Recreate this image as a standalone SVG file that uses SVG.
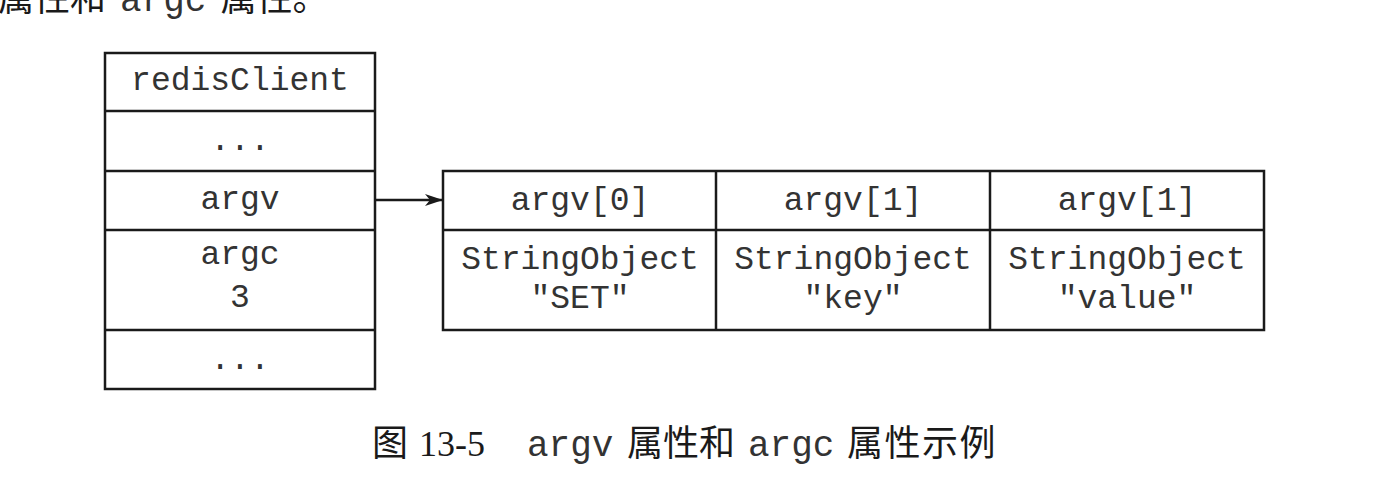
<svg xmlns="http://www.w3.org/2000/svg" width="1392" height="486" viewBox="0 0 1392 486">
<style>
.box{fill:#fff;stroke:#1a1a1a;stroke-width:2.5}
.ln{stroke:#1a1a1a;stroke-width:2.5}
.mono{font-family:"Liberation Mono","Noto Sans CJK SC",monospace;font-size:33px;fill:#333;text-anchor:middle}
.cjk{font-family:"Liberation Serif","Noto Sans CJK SC",serif;font-size:36px;fill:#1a1a1a}
.cm{font-family:"Liberation Mono",monospace;font-size:36px;fill:#333}
</style>
<defs>
<marker id="ah" markerWidth="18" markerHeight="12" refX="17" refY="6" orient="auto" markerUnits="userSpaceOnUse">
<path d="M0,0 L18,6 L0,12 L5,6 Z" fill="#1a1a1a"/>
</marker>
</defs>
<rect width="1392" height="486" fill="#fff"/>
<text x="-2" y="11" class="cjk">属性和<tspan class="cm" dx="14">argc</tspan><tspan dx="14">属性。</tspan></text>

<g id="redisClient">
<rect class="box" x="105" y="53" width="270" height="336"/>
<line class="ln" x1="105" y1="111" x2="375" y2="111"/>
<line class="ln" x1="105" y1="171" x2="375" y2="171"/>
<line class="ln" x1="105" y1="230" x2="375" y2="230"/>
<line class="ln" x1="105" y1="330" x2="375" y2="330"/>
<text class="mono" x="240" y="90">redisClient</text>
<text class="mono" x="240" y="150">...</text>
<text class="mono" x="240" y="209">argv</text>
<text class="mono" x="240" y="264">argc</text>
<text class="mono" x="240" y="307">3</text>
<text class="mono" x="240" y="369">...</text>
</g>

<g id="argv-array">
<rect class="box" x="443" y="171" width="821" height="159"/>
<line class="ln" x1="443" y1="230" x2="1264" y2="230"/>
<line class="ln" x1="716" y1="171" x2="716" y2="330"/>
<line class="ln" x1="990" y1="171" x2="990" y2="330"/>
<text class="mono" x="580" y="210">argv[0]</text>
<text class="mono" x="853" y="210">argv[1]</text>
<text class="mono" x="1127" y="210">argv[1]</text>
<text class="mono" x="580" y="269">StringObject</text>
<text class="mono" x="580" y="308">"SET"</text>
<text class="mono" x="853" y="269">StringObject</text>
<text class="mono" x="853" y="308">"key"</text>
<text class="mono" x="1127" y="269">StringObject</text>
<text class="mono" x="1127" y="308">"value"</text>
</g>

<g id="connectors">
<line class="ln" x1="375" y1="200" x2="442" y2="200" stroke-width="1.8" marker-end="url(#ah)"/>
</g>

<g id="caption">
<text x="372" y="456" class="cjk">图</text>
<text x="419" y="456" class="cjk">13-5</text>
<text x="527" y="456" class="cm">argv</text>
<text x="627" y="456" class="cjk">属性和</text>
<text x="748" y="456" class="cm">argc</text>
<text x="847" y="456" class="cjk" letter-spacing="1.5">属性示例</text>
</g>
</svg>
